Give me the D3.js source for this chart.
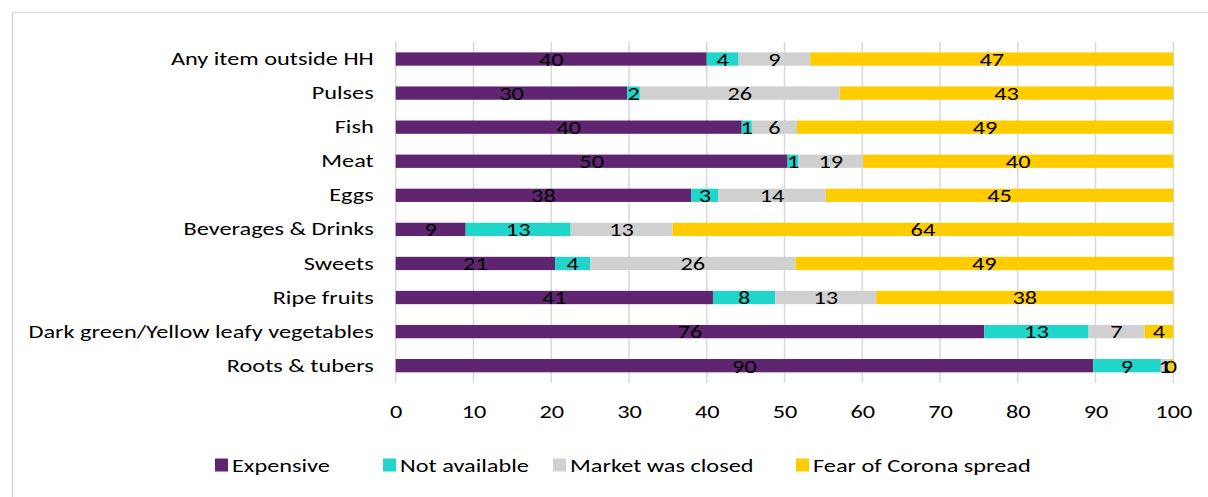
<!DOCTYPE html>
<html>
<head>
<meta charset="utf-8">
<script src="https://cdn.jsdelivr.net/npm/d3@7"></script>
<style>
  html, body { margin: 0; padding: 0; background: #fff; }
  svg { display: block; }
  text { font-family: Carlito, Calibri, Lato, "Open Sans", sans-serif; fill: #000; }
</style>
</head>
<body>
<svg id="chart" width="1208" height="497"></svg>
<script>
// Categories, top to bottom
const categories = [
  "Any item outside HH", "Pulses", "Fish", "Meat", "Eggs",
  "Beverages & Drinks", "Sweets", "Ripe fruits",
  "Dark green/Yellow leafy vegetables", "Roots & tubers"
];
const seriesNames = ["Expensive", "Not available", "Market was closed", "Fear of Corona spread"];

// Segment sizes (percent of bar) as drawn
const expensiveShare   = [40.0, 29.8, 44.5, 50.4, 38.0,  9.0, 20.5, 40.8, 75.7, 89.7];
const notAvailShare    = [ 4.1,  1.6,  1.3,  1.4,  3.5, 13.5,  4.5,  8.0, 13.4,  8.7];
const marketShare      = [ 9.2, 25.7,  5.8,  8.3, 13.8, 13.1, 26.4, 13.0,  7.2,  1.0];
const fearShare        = [46.7, 42.9, 48.4, 39.9, 44.7, 64.4, 48.6, 38.2,  3.7,  0.6];

// Data labels shown on segments
const expensiveLabel   = [40, 30, 40, 50, 38,  9, 21, 41, 76, 90];
const notAvailLabel    = [ 4,  2,  1,  1,  3, 13,  4,  8, 13,  9];
const marketLabel      = [ 9, 26,  6, 19, 14, 13, 26, 13,  7,  1];
const fearLabel        = [47, 43, 49, 40, 45, 64, 49, 38,  4,  0];

const xTicks = [0, 10, 20, 30, 40, 50, 60, 70, 80, 90, 100];
const colors = ["#5F2570", "#20D5C9", "#D0D0D0", "#FFCC00"];

const shares = [expensiveShare, notAvailShare, marketShare, fearShare];
const labels = [expensiveLabel, notAvailLabel, marketLabel, fearLabel];

const rows = categories.map((c, i) => {
  const r = { cat: c };
  seriesNames.forEach((s, k) => { r[s] = shares[k][i]; r[s + "_label"] = labels[k][i]; });
  return r;
});

const SX = 1.28; // horizontal stretch of the reference's type
function stretch(sel) {
  sel.each(function() {
    const t = d3.select(this);
    const xv = +(t.attr("x") || 0);
    t.attr("x", xv / SX).attr("transform", `scale(${SX},1)`);
  });
}

const svg = d3.select("#chart");

// outer frame (left & top visible)
svg.append("path")
  .attr("d", "M12.5,497 L12.5,12.5 L1208,12.5")
  .attr("fill", "none").attr("stroke", "#D9D9D9").attr("stroke-width", 1.5);

const plot = { left: 395.7, right: 1173.3, top: 42, bottom: 382.7 };

const x = d3.scaleLinear().domain([0, 100]).range([plot.left, plot.right]);
const y = d3.scaleBand().domain(categories).range([plot.top, plot.bottom]).paddingInner(0.61).paddingOuter(0.305);

// gridlines
svg.append("g").selectAll("line").data(xTicks).join("line")
  .attr("x1", d => x(d)).attr("x2", d => x(d))
  .attr("y1", plot.top).attr("y2", plot.bottom)
  .attr("stroke", "#D9D9D9").attr("stroke-width", 1.5);

// stacks
const stack = d3.stack().keys(seriesNames);
const stacked = stack(rows);

const gBars = svg.append("g");
stacked.forEach((layer, k) => {
  gBars.append("g").attr("fill", colors[k])
    .selectAll("rect").data(layer).join("rect")
    .attr("x", d => x(d[0]))
    .attr("width", d => x(d[1]) - x(d[0]))
    .attr("y", d => y(d.data.cat))
    .attr("height", y.bandwidth());
});

// data labels
const gLab = svg.append("g");
stacked.forEach((layer, k) => {
  const t = gLab.append("g").selectAll("text").data(layer).join("text")
    .attr("x", d => x((d[0] + d[1]) / 2))
    .attr("y", d => y(d.data.cat) + y.bandwidth() / 2)
    .attr("dy", "0.36em")
    .attr("text-anchor", "middle")
    .attr("font-size", 19)
    .attr("fill", "#1a1a1a")
    .text(d => d.data[seriesNames[k] + "_label"]);
  stretch(t);
});

// category axis labels
const yAxis = d3.axisLeft(y).tickSize(0).tickPadding(22);
const gy = svg.append("g").attr("transform", `translate(${plot.left},0)`).call(yAxis);
gy.select(".domain").remove();
gy.selectAll("text").attr("font-size", 19).attr("font-family", null).attr("fill", "#1a1a1a").call(stretch);

// x axis tick labels
const xAxis = d3.axisBottom(x).tickValues(xTicks).tickSize(0).tickPadding(22);
const gx = svg.append("g").attr("transform", `translate(0,${plot.bottom})`).call(xAxis);
gx.select(".domain").remove();
gx.selectAll("text").attr("font-size", 19).attr("font-family", null).attr("fill", "#1a1a1a").call(stretch);

// legend
const legendX = [215, 383, 553, 796];
const gLeg = svg.append("g");
seriesNames.forEach((s, k) => {
  const g = gLeg.append("g").attr("transform", `translate(${legendX[k]},465)`);
  g.append("rect").attr("x", 0).attr("y", -6.5).attr("width", 13).attr("height", 13).attr("fill", colors[k]);
  g.append("text").attr("x", 17).attr("y", 0).attr("dy", "0.36em").attr("font-size", 19).attr("fill", "#1a1a1a").text(s).call(stretch);
});
</script>
</body>
</html>
